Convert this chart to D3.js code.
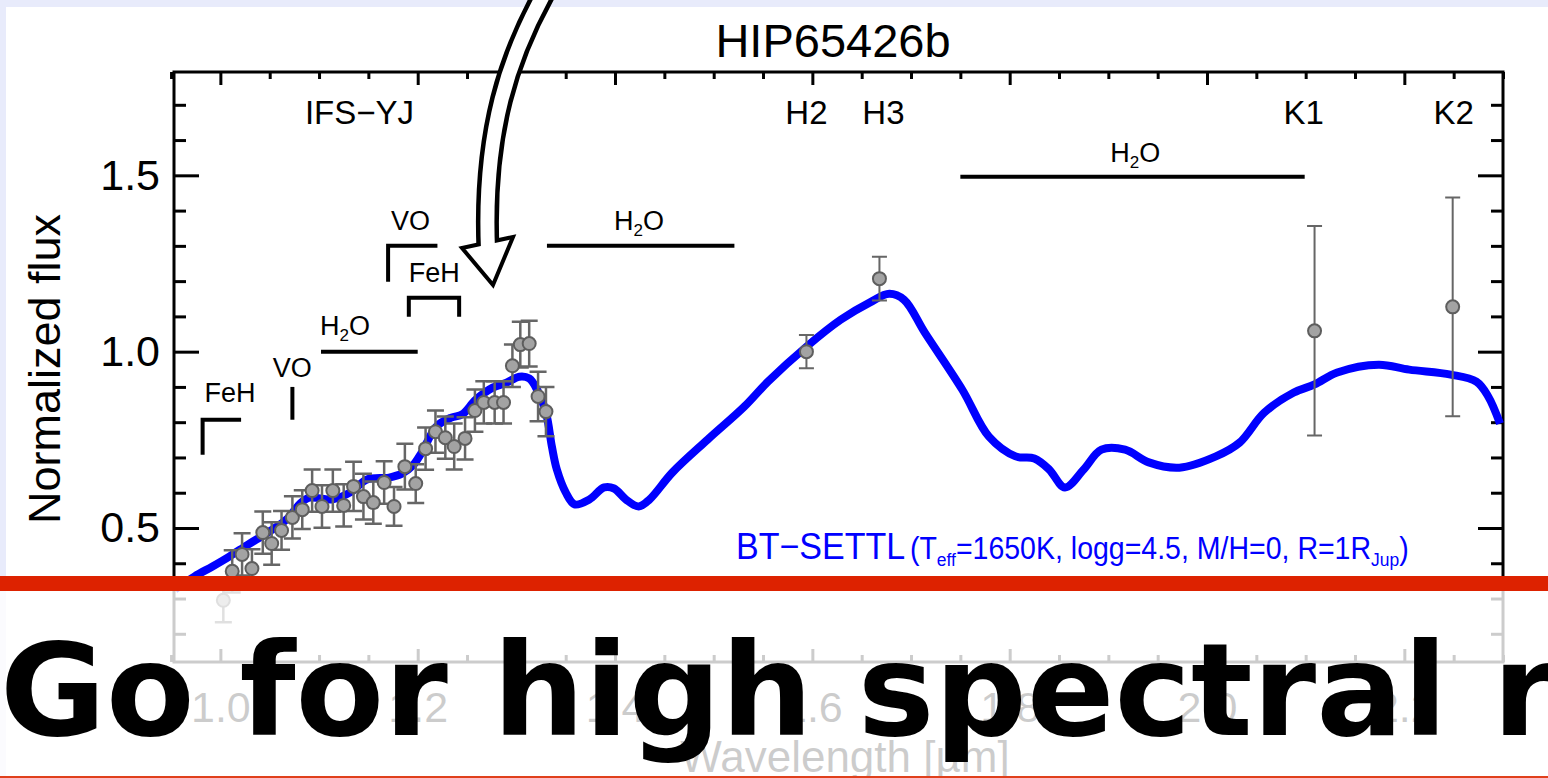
<!DOCTYPE html>
<html>
<head>
<meta charset="utf-8">
<script src="https://cdn.jsdelivr.net/npm/d3@7"></script>
<style>
  body { margin: 0; background: #e8ebfb; overflow: hidden; }
  text { font-family: "Liberation Sans", Arial, Helvetica, sans-serif; }
</style>
</head>
<body>
<div id="slide"></div>
<script>
// IFS (YJ) spectrum points: wavelength [um], normalized flux, error
const ifsWave = [1.003, 1.012, 1.022, 1.032, 1.043, 1.052, 1.062, 1.073, 1.083, 1.093, 1.103, 1.114,
  1.125, 1.135, 1.145, 1.155, 1.166, 1.176, 1.187, 1.198, 1.208, 1.218, 1.228, 1.237, 1.248, 1.258,
  1.267, 1.278, 1.287, 1.296, 1.304, 1.313, 1.322, 1.330];
const ifsFlux = [0.295, 0.377, 0.425, 0.385, 0.487, 0.456, 0.493, 0.530, 0.552, 0.606, 0.561, 0.606,
  0.564, 0.618, 0.589, 0.572, 0.629, 0.561, 0.674, 0.626, 0.725, 0.773, 0.756, 0.731, 0.754, 0.833,
  0.856, 0.856, 0.856, 0.960, 1.020, 1.023, 0.873, 0.830];
const ifsErr = [0.062, 0.06, 0.06, 0.055, 0.06, 0.06, 0.055, 0.06, 0.055, 0.06, 0.06, 0.06,
  0.06, 0.07, 0.065, 0.06, 0.06, 0.055, 0.065, 0.055, 0.06, 0.06, 0.06, 0.065, 0.06, 0.06,
  0.06, 0.06, 0.06, 0.06, 0.065, 0.065, 0.07, 0.07];

// IRDIS photometry H2, H3, K1, K2
const irdisWave = [1.594, 1.668, 2.109, 2.249];
const irdisFlux = [1.0, 1.207, 1.059, 1.127];
const irdisErr = [0.047, 0.062, 0.297, 0.31];

// BT-SETTL model
const modelWave = [0.954, 0.974, 0.992, 1.009, 1.028, 1.048, 1.067, 1.082, 1.090, 1.101, 1.113, 1.133,
  1.148, 1.171, 1.184, 1.195, 1.204, 1.219, 1.234, 1.245, 1.259, 1.276, 1.290, 1.303, 1.313, 1.321,
  1.330, 1.336, 1.341, 1.350, 1.359, 1.374, 1.389, 1.399, 1.411, 1.424, 1.435, 1.458, 1.494, 1.531,
  1.555, 1.594, 1.629, 1.658, 1.678, 1.693, 1.714, 1.752, 1.779, 1.806, 1.825, 1.840, 1.856, 1.875,
  1.893, 1.917, 1.941, 1.972, 2.009, 2.033, 2.058, 2.088, 2.109, 2.132, 2.174, 2.205, 2.247, 2.273,
  2.285, 2.297];
const modelFlux = [0.326, 0.363, 0.391, 0.419, 0.453, 0.487, 0.524, 0.572, 0.586, 0.584, 0.581, 0.603,
  0.637, 0.643, 0.654, 0.677, 0.714, 0.788, 0.813, 0.822, 0.864, 0.898, 0.912, 0.929, 0.924, 0.892,
  0.827, 0.731, 0.666, 0.601, 0.567, 0.581, 0.615, 0.612, 0.581, 0.561, 0.581, 0.657, 0.751, 0.844,
  0.915, 1.014, 1.091, 1.139, 1.164, 1.147, 1.054, 0.892, 0.759, 0.703, 0.697, 0.666, 0.615, 0.666,
  0.722, 0.722, 0.686, 0.671, 0.703, 0.742, 0.827, 0.884, 0.907, 0.941, 0.963, 0.949, 0.935, 0.915,
  0.873, 0.796];

// filter names and their wavelengths
const filterNames = ["IFS\u2212YJ", "H2", "H3", "K1", "K2"];
const filterWave = [1.141, 1.594, 1.672, 2.098, 2.250];

// molecular bands: label, start, end, level
const bandNames = ["H2O", "H2O", "H2O"];
const bandStart = [1.102, 1.331, 1.750];
const bandEnd = [1.200, 1.521, 2.099];
const bandLevel = [1.0, 1.30, 1.496];

const xTickLabels = [1.0, 1.2, 1.4, 1.6, 1.8, 2.0, 2.2];
const yTickLabels = [0.5, 1.0, 1.5];

const W = 1548, H = 778;
const svg = d3.select("#slide").append("svg").attr("width", W).attr("height", H).style("display", "block");

svg.append("rect").attr("width", W).attr("height", H).attr("fill", "#e8ebfb");
svg.append("rect").attr("x", 6).attr("y", 7).attr("width", W - 6).attr("height", H - 7).attr("fill", "#fff");

let x = d3.scaleLinear().domain([0.953, 2.30]).range([174, 1503]);
let y = d3.scaleLinear().domain([0.12, 1.793]).range([662, 72]);

let chart = svg.append("g");

// axes
let xMinor = d3.range(19, 47).map(i => i / 20).filter(v => Math.abs(v * 5 - Math.round(v * 5)) > 1e-6);
let yMinor = d3.range(2, 18).map(i => i / 10).filter(v => Math.abs(v * 2 - Math.round(v * 2)) > 1e-6);

function styleAxis(g) {
  g.select(".domain").remove();
  g.selectAll(".tick line").attr("stroke", "#000").attr("stroke-width", 3);
  g.selectAll("text").attr("fill", "#000").style("font-size", "43px")
    .style("font-family", "'Liberation Sans', Arial, sans-serif");
}

chart.append("g").attr("transform", "translate(0,662)")
  .call(d3.axisBottom(x).tickValues(xTickLabels).tickSize(-13).tickPadding(29).tickFormat(d3.format(".1f")))
  .call(styleAxis);
chart.append("g").attr("transform", "translate(0,662)")
  .call(d3.axisBottom(x).tickValues(xMinor).tickSize(-7).tickFormat("")).call(styleAxis);
chart.append("g").attr("transform", "translate(0,72)")
  .call(d3.axisTop(x).tickValues(xTickLabels).tickSize(-13).tickFormat("")).call(styleAxis);
chart.append("g").attr("transform", "translate(0,72)")
  .call(d3.axisTop(x).tickValues(xMinor).tickSize(-7).tickFormat("")).call(styleAxis);
chart.append("g").attr("transform", "translate(174,0)")
  .call(d3.axisLeft(y).tickValues(yTickLabels).tickSize(-25).tickPadding(14).tickFormat(d3.format(".1f")))
  .call(styleAxis);
chart.append("g").attr("transform", "translate(174,0)")
  .call(d3.axisLeft(y).tickValues(yMinor).tickSize(-12).tickFormat("")).call(styleAxis);
chart.append("g").attr("transform", "translate(1503,0)")
  .call(d3.axisRight(y).tickValues(yTickLabels).tickSize(-25).tickFormat("")).call(styleAxis);
chart.append("g").attr("transform", "translate(1503,0)")
  .call(d3.axisRight(y).tickValues(yMinor).tickSize(-12).tickFormat("")).call(styleAxis);

chart.append("rect").attr("x", 174).attr("y", 72).attr("width", 1329).attr("height", 590)
  .attr("fill", "none").attr("stroke", "#000").attr("stroke-width", 3);

// titles
chart.append("text").attr("x", 833).attr("y", 57).attr("text-anchor", "middle")
  .style("font-size", "47px").text("HIP65426b");
chart.append("text").attr("transform", "translate(60,369) rotate(-90)").attr("text-anchor", "middle")
  .style("font-size", "45px").text("Normalized flux");
chart.append("text").attr("x", 845).attr("y", 772).attr("text-anchor", "middle")
  .style("font-size", "44px").text("Wavelength [\u00b5m]");

// filter names
chart.selectAll(".filt").data(filterNames).enter().append("text")
  .attr("x", (d, i) => x(filterWave[i])).attr("y", y(1.646)).attr("text-anchor", "middle")
  .style("font-size", "33px").text(d => d);

// molecular bands
let bandG = chart.append("g").attr("stroke", "#000").attr("stroke-width", 4).attr("fill", "none");
bandNames.forEach((n, i) => {
  bandG.append("line").attr("x1", x(bandStart[i])).attr("x2", x(bandEnd[i]))
    .attr("y1", y(bandLevel[i])).attr("y2", y(bandLevel[i]));
});
// H2O labels
let h2oLabelWave = [1.101, 1.399, 1.902];
let h2oLabelFlux = [1.048, 1.346, 1.538];
h2oLabelWave.forEach((w, i) => {
  let t = chart.append("text").attr("x", x(w)).attr("y", y(h2oLabelFlux[i])).style("font-size", "27px");
  t.append("tspan").text("H");
  t.append("tspan").attr("dy", 6).style("font-size", "17px").text("2");
  t.append("tspan").attr("dy", -6).text("O");
});
// VO and FeH brackets
bandG.append("path").attr("d", d3.line()([[x(1.170), y(1.198)], [x(1.170), y(1.30)], [x(1.220), y(1.30)]]));
bandG.append("path").attr("d", d3.line()([[x(1.191), y(1.099)], [x(1.191), y(1.153)], [x(1.242), y(1.153)], [x(1.242), y(1.099)]]));
bandG.append("path").attr("d", d3.line()([[x(1.073), y(0.90)], [x(1.073), y(0.807)]]));
bandG.append("path").attr("d", d3.line()([[x(0.982), y(0.708)], [x(0.982), y(0.807)], [x(1.021), y(0.807)]]));
let molNames = ["VO", "FeH", "VO", "FeH"];
let molWave = [1.173, 1.191, 1.053, 0.984];
let molFlux = [1.346, 1.198, 0.929, 0.858];
molNames.forEach((n, i) => {
  chart.append("text").attr("x", x(molWave[i])).attr("y", y(molFlux[i])).style("font-size", "27px").text(n);
});

// model
chart.append("path")
  .attr("d", d3.line().x((d, i) => x(modelWave[i])).y(d => y(d)).curve(d3.curveCatmullRom.alpha(0.5))(modelFlux))
  .attr("fill", "none").attr("stroke", "#0000ff").attr("stroke-width", 8).attr("stroke-linejoin", "round");

// data points with error bars
function drawPoints(wave, flux, err, cap, sw) {
  let g = chart.append("g");
  wave.forEach((w, i) => {
    let cx = x(w), y0 = y(flux[i] - err[i]), y1 = y(flux[i] + err[i]);
    g.append("path").attr("d", `M${cx},${y0}V${y1}M${cx - cap / 2},${y0}H${cx + cap / 2}M${cx - cap / 2},${y1}H${cx + cap / 2}`)
      .attr("stroke", "#666").attr("stroke-width", sw).attr("fill", "none");
  });
  g.selectAll("circle").data(flux).enter().append("circle")
    .attr("cx", (d, i) => x(wave[i])).attr("cy", d => y(d)).attr("r", 6.5)
    .attr("fill", "#a3a3a3").attr("stroke", "#5e5e5e").attr("stroke-width", 2);
}
drawPoints(ifsWave, ifsFlux, ifsErr, 17, 2.5);
drawPoints(irdisWave, irdisFlux, irdisErr, 15, 2);

// legend
let leg = chart.append("text").attr("transform", "translate(736,559) scale(0.92,1)").attr("fill", "#0000ff");
leg.append("tspan").style("font-size", "37px").text("BT\u2212SETTL");
leg.append("tspan").attr("dx", 5).style("font-size", "31px").text("(T");
leg.append("tspan").attr("dy", 7).style("font-size", "19px").text("eff");
leg.append("tspan").attr("dy", -7).style("font-size", "31px").text("=1650K, logg=4.5, M/H=0, R=1R");
leg.append("tspan").attr("dy", 7).style("font-size", "19px").text("Jup");
leg.append("tspan").attr("dy", -7).style("font-size", "31px").text(")");

// arrow
let arrow = svg.append("g");
let shaft = "M545,-8 C510,55 483,130 488,250";
arrow.append("path").attr("d", shaft).attr("fill", "none").attr("stroke", "#000").attr("stroke-width", 23);
arrow.append("path").attr("d", "M462,248 L513,237 L493,285 Z").attr("fill", "#fff")
  .attr("stroke", "#000").attr("stroke-width", 4).attr("stroke-linejoin", "miter");
arrow.append("path").attr("d", shaft).attr("fill", "none").attr("stroke", "#fff").attr("stroke-width", 14);

// slide overlay below the red bar
svg.append("rect").attr("x", 0).attr("y", 591).attr("width", W).attr("height", H - 591)
  .attr("fill", "#fff").attr("opacity", 0.8);
svg.append("rect").attr("x", 0).attr("y", 576).attr("width", W).attr("height", 15).attr("fill", "#dd2200");
svg.append("rect").attr("x", 0).attr("y", 776).attr("width", W).attr("height", 2).attr("fill", "#e0401c");
svg.append("text").attr("x", 0).attr("y", 735)
  .style("font-family", "'DejaVu Sans', Verdana, sans-serif").style("font-weight", "bold").style("font-size", "129px")
  .attr("fill", "#000").text("Go for high spectral resolution");
</script>
</body>
</html>
